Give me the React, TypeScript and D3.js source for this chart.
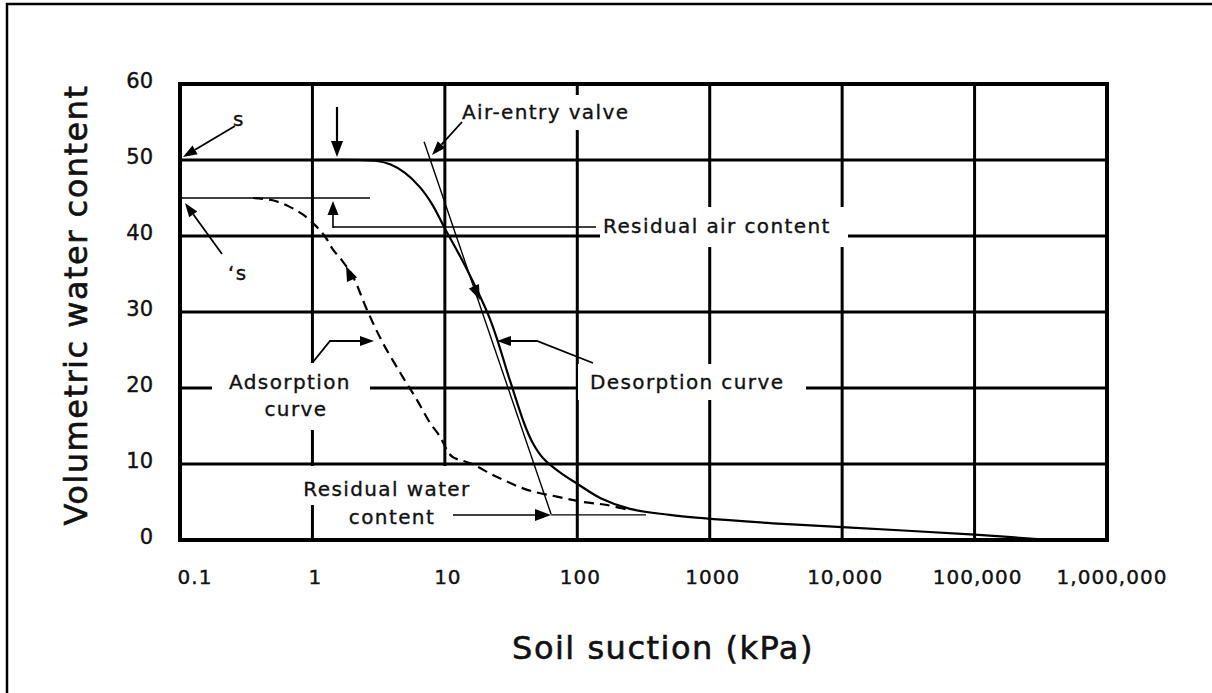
import React from "react";
import * as d3 from "d3";

// ---- data ----
const decadeTicks = [0.1, 1, 10, 100, 1000, 10000, 100000, 1000000];
const xTickLabels = ["0.1", "1", "10", "100", "1000", "10,000", "100,000", "1,000,000"];
const yTicks = [0, 10, 20, 30, 40, 50, 60];

const desorptionS = [1, 2.3, 3.0, 3.9, 5.0, 6.5, 8, 10, 14, 22, 31, 40, 46, 55, 74, 100, 150, 250, 500, 846, 3000, 10000, 100000, 316000];
const desorptionTheta = [50, 50, 49.9, 49.4, 48.3, 46.4, 44.2, 41, 36.3, 29, 21, 15.2, 12.8, 10.8, 8.9, 7.4, 5.5, 4.1, 3.3, 2.9, 2.2, 1.7, 0.7, 0.1];

const adsorptionS = [0.356, 0.5, 0.68, 0.85, 1.05, 1.25, 1.43, 1.67, 2.03, 2.58, 3.41, 4.83, 6.17, 7.73, 9.2, 10.4, 11.5, 15.5, 24.8, 41.8, 70.3, 111, 168, 250];
const adsorptionTheta = [45, 44.7, 43.8, 42.8, 41.4, 39.9, 38.2, 36.8, 34.6, 30.3, 25.9, 21.4, 18.4, 15.4, 13.6, 11.8, 10.9, 10.1, 8.3, 6.6, 5.7, 5.0, 4.6, 3.9];

const tangentS = [6.97, 63.4];
const tangentTheta = [52.4, 3.4];
const adsSatS = [0.1, 2.72];
const adsSatTheta = [45, 45];
const residualWaterS = [63.4, 330];
const residualWaterTheta = [3.3, 3.3];

const FONT = "DejaVu Sans";

function Arrow({ x1, y1, x2, y2, w = 1.8, len = 14, half = 5 }: any) {
  const ang = Math.atan2(y2 - y1, x2 - x1);
  const bx = x2 - len * Math.cos(ang);
  const by = y2 - len * Math.sin(ang);
  const px = -Math.sin(ang) * half;
  const py = Math.cos(ang) * half;
  return (
    <g>
      <line x1={x1} y1={y1} x2={bx} y2={by} stroke="#000" strokeWidth={w} />
      <polygon points={`${x2},${y2} ${bx + px},${by + py} ${bx - px},${by - py}`} fill="#000" />
    </g>
  );
}

function Head({ x, y, dx, dy, len = 15, half = 5.5 }: any) {
  const ang = Math.atan2(dy, dx);
  const bx = x - len * Math.cos(ang);
  const by = y - len * Math.sin(ang);
  const px = -Math.sin(ang) * half;
  const py = Math.cos(ang) * half;
  return <polygon points={`${x},${y} ${bx + px},${by + py} ${bx - px},${by - py}`} fill="#000" />;
}

export default function App() {
  const W = 1212, H = 693;
  const x = d3.scaleLog().domain([0.1, 1000000]).range([180, 1107]);
  const y = d3.scaleLinear().domain([0, 60]).range([540, 84]);

  const line = d3
    .line<[number, number]>()
    .x((d) => x(d[0]))
    .y((d) => y(d[1]))
    .curve(d3.curveCatmullRom.alpha(0.5));
  const straight = d3
    .line<[number, number]>()
    .x((d) => x(d[0]))
    .y((d) => y(d[1]));

  const des = desorptionS.map((s, i) => [s, desorptionTheta[i]] as [number, number]);
  const ads = adsorptionS.map((s, i) => [s, adsorptionTheta[i]] as [number, number]);
  const tan = tangentS.map((s, i) => [s, tangentTheta[i]] as [number, number]);
  const sat = adsSatS.map((s, i) => [s, adsSatTheta[i]] as [number, number]);
  const rw = residualWaterS.map((s, i) => [s, residualWaterTheta[i]] as [number, number]);

  const x0 = x(0.1), x1 = x(1000000), y0 = y(0), y1 = y(60);

  const annot = { fontFamily: FONT, fontSize: 20, fill: "#111", letterSpacing: 1.4, stroke: "#111", strokeWidth: 0.35 };
  const tickStyle = { fontFamily: FONT, fill: "#111", stroke: "#111", strokeWidth: 0.4 };
  const titleStyle = { fontFamily: FONT, fontSize: 32, fill: "#111", letterSpacing: 1.5, stroke: "#111", strokeWidth: 0.6 };

  return (
    <svg width={W} height={H} style={{ position: "absolute", left: 0, top: 0, background: "#fff" }}>
      <rect x={0} y={0} width={W} height={H} fill="#fff" />
      {/* outer frame */}
      <path d={`M7,${H + 5} L7,4 L${W + 5},4`} fill="none" stroke="#000" strokeWidth={2.5} />

      {/* grid */}
      {decadeTicks.map((t, i) => (
        <line key={"v" + i} x1={x(t)} x2={x(t)} y1={y0} y2={y1} stroke="#000" strokeWidth={3} />
      ))}
      {yTicks.map((t, i) => (
        <line key={"h" + i} x1={x0} x2={x1} y1={y(t)} y2={y(t)} stroke="#000" strokeWidth={3} />
      ))}

      {/* label knock-outs */}
      <rect x={455} y={95} width={181} height={35} fill="#fff" />
      <rect x={600} y={207} width={248} height={40} fill="#fff" />
      <rect x={212} y={363} width={158} height={67} fill="#fff" />
      <rect x={578} y={364} width={228} height={36} fill="#fff" />
      <rect x={296} y={466} width={182} height={39} fill="#fff" />
      <rect x={340} y={505} width={110} height={33} fill="#fff" />

      {/* plot border */}
      <rect x={x0} y={y1} width={x1 - x0} height={y0 - y1} fill="none" stroke="#000" strokeWidth={4} />

      {/* construction lines */}
      <path d={straight(sat) || ""} fill="none" stroke="#000" strokeWidth={1.6} />
      <path d={straight(tan) || ""} fill="none" stroke="#000" strokeWidth={1.4} />
      <path d={straight(rw) || ""} fill="none" stroke="#000" strokeWidth={1.4} />

      {/* curves */}
      <path d={line(des) || ""} fill="none" stroke="#000" strokeWidth={2.2} />
      <path d={line(ads) || ""} fill="none" stroke="#000" strokeWidth={2.2} strokeDasharray="10 6" />

      {/* on-curve arrow heads */}
      <Head x={480} y={300} dx={20} dy={45} />
      <Head x={346} y={266} dx={-22} dy={-50} />

      {/* leaders and arrows */}
      <Arrow x1={235} y1={126} x2={183} y2={157} />
      <Arrow x1={222} y1={254} x2={185} y2={203} />
      <Arrow x1={337} y1={107} x2={337} y2={157} w={2.2} len={16} half={6} />
      <line x1={333} y1={227} x2={596} y2={227} stroke="#000" strokeWidth={1.6} />
      <Arrow x1={333} y1={228} x2={333} y2={201} w={1.6} len={14} half={5.5} />
      <Arrow x1={462} y1={122} x2={432} y2={155} />
      <polyline points="313,362 330,341 360,341" fill="none" stroke="#000" strokeWidth={1.8} />
      <Arrow x1={359} y1={341} x2={374} y2={341} />
      <polyline points="593,363 537,341 510,341" fill="none" stroke="#000" strokeWidth={1.8} />
      <Arrow x1={511} y1={341} x2={497} y2={341} />
      <Arrow x1={453} y1={515} x2={551} y2={515} w={1.6} len={16} half={6} />

      {/* annotation texts */}
      <text x={233} y={126} {...annot}>s</text>
      <text x={228} y={280} {...annot}>‘s</text>
      <text x={462} y={119} {...annot}>Air-entry valve</text>
      <text x={603} y={233} {...annot}>Residual air content</text>
      <text x={290} y={389} textAnchor="middle" {...annot}>Adsorption</text>
      <text x={296} y={416} textAnchor="middle" {...annot}>curve</text>
      <text x={590} y={389} {...annot}>Desorption curve</text>
      <text x={387} y={496} textAnchor="middle" {...annot}>Residual water</text>
      <text x={392} y={524} textAnchor="middle" {...annot}>content</text>

      {/* tick labels */}
      {yTicks.map((t, i) => (
        <text key={"yl" + i} x={153} y={y(t) + 4} textAnchor="end" fontSize={21} {...tickStyle}>
          {t}
        </text>
      ))}
      {decadeTicks.map((t, i) => (
        <text key={"xl" + i} x={x(t) + (i === 0 ? 15 : i === 7 ? 5 : 3)} y={584} textAnchor="middle" fontSize={20} letterSpacing={1} {...tickStyle}>
          {xTickLabels[i]}
        </text>
      ))}

      {/* axis titles */}
      <text x={663} y={659} textAnchor="middle" {...titleStyle}>
        Soil suction (kPa)
      </text>
      <text transform={`translate(87,${305}) rotate(-90)`} textAnchor="middle" {...titleStyle}>
        Volumetric water content
      </text>
    </svg>
  );
}
